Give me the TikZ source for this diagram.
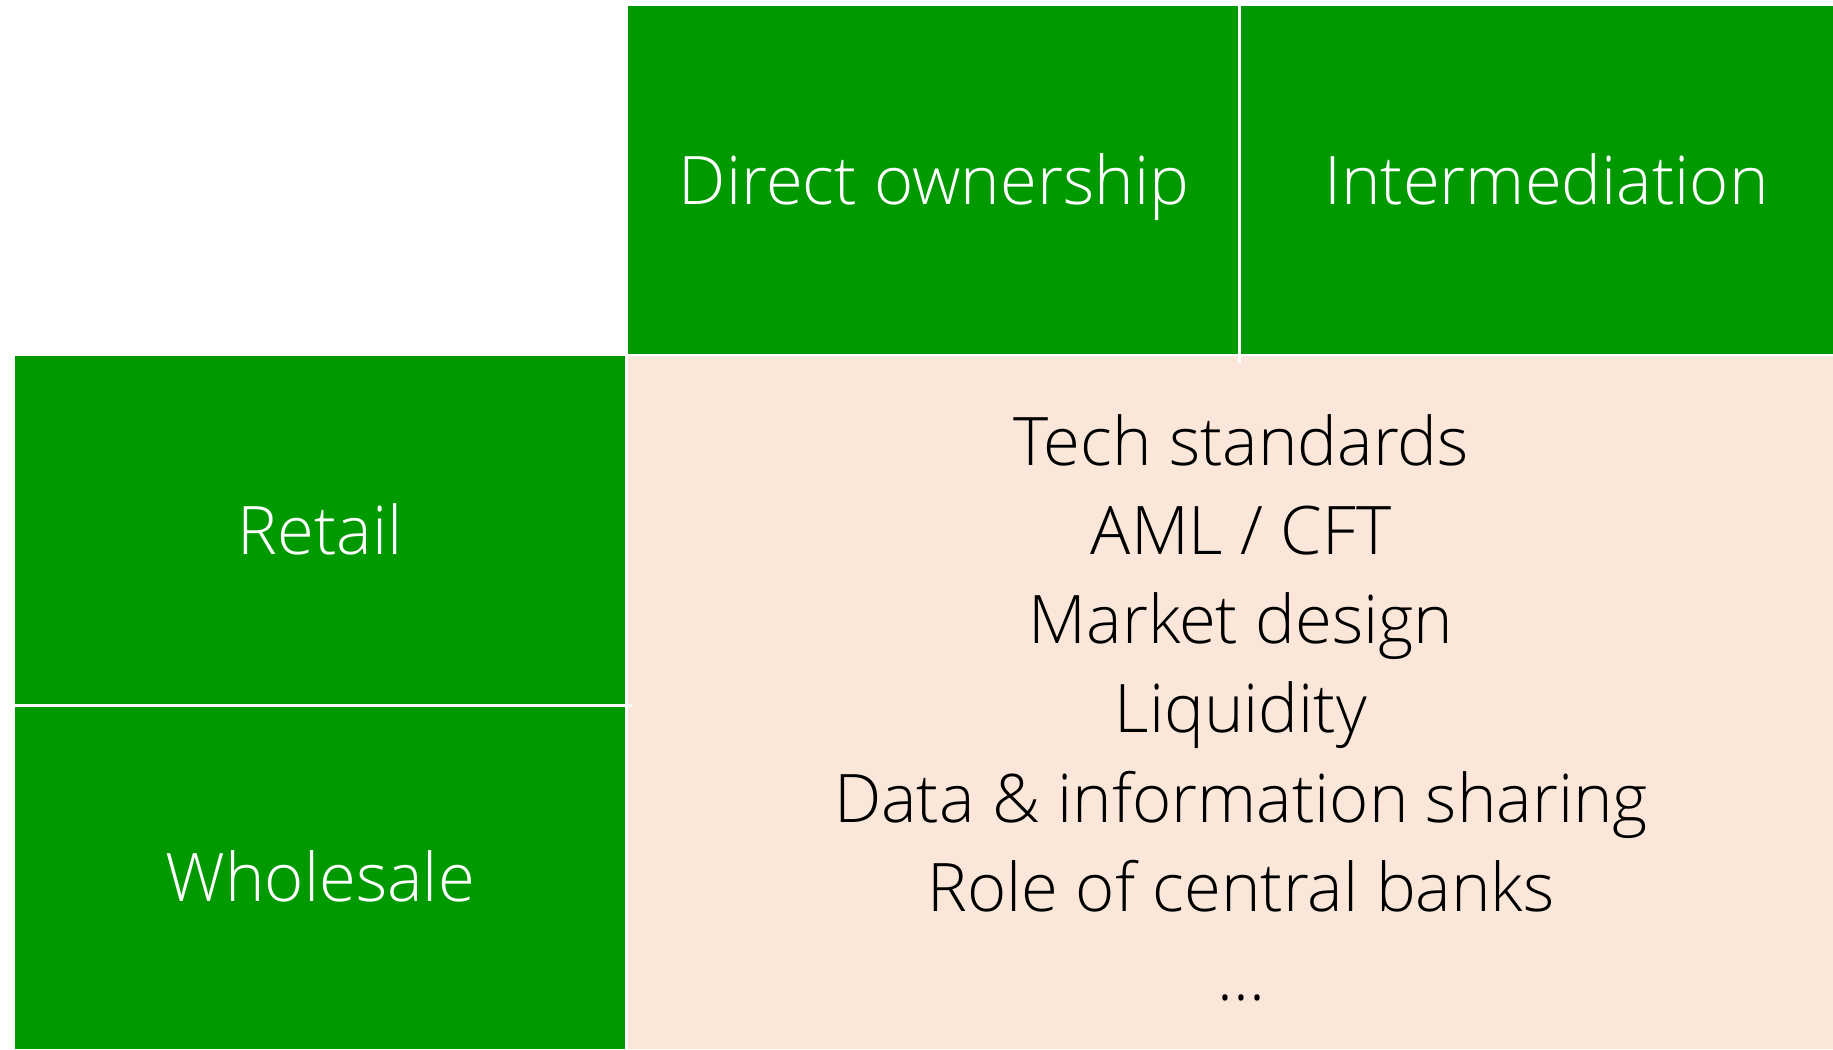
\documentclass[tikz,border=0pt]{standalone}
\usepackage{fontspec}
\setmainfont{Open Sans Light}
\definecolor{cellgreen}{RGB}{0,153,0}
\definecolor{cellpeach}{RGB}{251,231,217}
\begin{document}
\begin{tikzpicture}[x=1pt,y=-1pt,
  txt/.style={font=\fontsize{67}{80}\selectfont},
  cell/.style={draw=none,inner sep=0pt,anchor=north west,txt,text=white,fill=cellgreen,
    text height=48pt,text depth=0pt},
  sep/.style={white,line width=3pt},
  item/.style={txt,text=black,anchor=base,inner sep=0pt}]
  \useasboundingbox[fill=white] (0,0) rectangle (1833,1049);
  % column headers
  \node[cell,minimum width=611.5pt,minimum height=348pt] (direct) at (628,6) {Direct ownership};
  \node[cell,minimum width=593.5pt,minimum height=348pt] (inter) at (1239.5,6) {\hspace*{20pt}Intermediation};
  % row headers
  \node[cell,minimum width=610pt,minimum height=349.5pt] (retail) at (15,356) {Retail};
  \node[cell,minimum width=610pt,minimum height=343.5pt] (whole) at (15,705.5) {Wholesale};
  % body
  \node[cell,fill=cellpeach,minimum width=1205pt,minimum height=693pt] (body) at (628,356) {};
  % white separators
  \coordinate (vtop) at (direct.north east);
  \coordinate (vbot) at ([yshift=-9pt]direct.south east);
  \draw[sep] (vtop) -- (vbot);
  \coordinate (hleft) at (retail.south west);
  \coordinate (hright) at ([xshift=7pt]retail.south east);
  \draw[sep] (hleft) -- (hright);
  % list of topics
  \foreach \t [count=\i from 0] in {Tech standards,AML / CFT,Market design,Liquidity,Data \& information sharing,Role of central banks,\dots}
    \node[item] (topic\i) at (1241,465+89.3*\i) {\t};
\end{tikzpicture}
\end{document}
